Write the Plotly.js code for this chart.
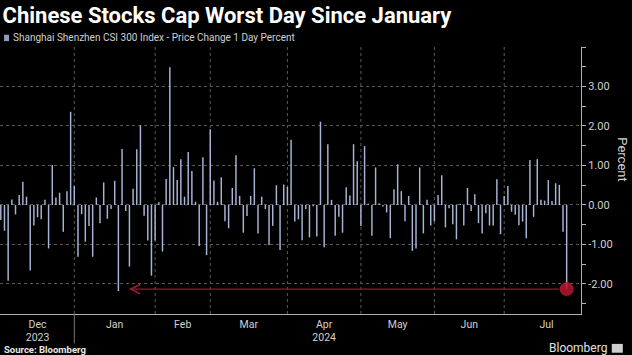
<!DOCTYPE html>
<html>
<head>
<meta charset="utf-8">
<script src="https://cdn.plot.ly/plotly-3.0.1.min.js"></script>
<style>
html,body{margin:0;padding:0;background:#000;}
#chart{width:632px;height:355px;}
</style>
</head>
<body>
<div id="chart"></div>
<script>
// ---- Data: CSI 300 daily % change, grouped by month (trading days) ----
const monthLabels = ['Dec<br>2023', 'Jan', 'Feb', 'Mar', 'Apr<br>2024', 'May', 'Jun', 'Jul'];
const dec2023 = [-0.38, -0.65, -1.92, 0.14, -0.24, 0.25, 0.59, 0.21, -1.66, -0.52, -0.31, -0.36, 0.13, -1.10, 1.01, 0.19, 0.31, -0.68, 0.35, 2.36, 0.48];
const jan2024 = [-1.31, -0.23, -0.93, -0.53, -1.31, 0.19, -0.46, 0.57, -0.35, -0.10, 0.61, -2.18, 1.42, -0.15, -1.56, 0.41, 1.41, 2.02, -0.27, -0.90, -1.79, -0.90];
const feb2024 = [0.07, -1.18, 0.66, 3.49, 0.96, 0.63, 1.16, 0.21, 1.34, 0.86, 0.08, -1.04, 1.21, -1.27, 1.92];
const mar2024 = [0.62, 0.08, 0.70, -0.41, -0.59, 0.43, 1.26, 0.23, -0.70, -0.28, 0.23, 0.93, -0.72, 0.21, -0.10, -1.01, -0.53, 0.50, -1.14, 0.52, 0.46];
const apr2024 = [1.65, -0.42, -0.36, -0.89, -0.10, -0.82, -0.03, -0.80, 2.11, -1.07, 1.54, 0.13, -0.78, -0.30, -0.70, 0.45, 0.24, 1.54, 1.11, -0.53];
const may2024 = [1.49, 0.03, -0.78, 0.95, 0.04, -0.04, -0.19, -0.84, 0.40, 1.03, 0.35, -0.41, 0.23, -1.16, -1.10, 0.95, -0.72, 0.13, -0.52, -0.41];
const jun2024 = [0.25, 0.75, -0.57, -0.08, -0.49, -0.87, 0.03, -0.52, 0.43, -0.15, 0.27, -0.46, -0.72, -0.21, -0.52, -0.52, 0.65, -0.74, 0.23];
const jul2024 = [0.48, -0.17, -0.25, -0.51, -0.42, -0.84, 1.14, -0.30, 1.16, 0.13, 0.11, 0.63, 0.10, 0.55, 0.51, -0.68, -2.13];
const julFullMonthDays = 23;
const yTickValues = [-2, -1, 0, 1, 2, 3, 4];

const seriesName = 'Shanghai Shenzhen CSI 300 Index - Price Change 1 Day Percent';
const chartTitle = 'Chinese Stocks Cap Worst Day Since January';
const axisTitle = 'Percent';

// ---- Build ----
const months = [dec2023, jan2024, feb2024, mar2024, apr2024, may2024, jun2024, jul2024];
const values = [].concat(...months);
const idx = values.map((_, i) => i);

const monthEnds = [];
let c = 0;
months.forEach(m => { c += m.length; monthEnds.push(c - 1); });
const labelPos = months.map((m, i) => {
  const prev = i === 0 ? 0 : monthEnds[i - 1];
  const end = i === months.length - 1 ? prev + julFullMonthDays : monthEnds[i];
  return (prev + end) / 2;
});

const lastIdx = values.length - 1;
const lastVal = values[lastIdx];
const janStart = dec2023.length;
let janLowIdx = janStart;
jan2024.forEach((v, i) => { if (v < values[janLowIdx]) janLowIdx = janStart + i; });

const minorVals = [];
for (let v = -2.5; v <= 4.001; v += 0.5) { if (Math.abs(v - Math.round(v)) > 0.1) minorVals.push(v); }

const gridColor = '#5a5a5a';
const axisColor = '#b0b0b0';
const textColor = '#d0d0d0';
const FONT = 'Roboto, "Open Sans", sans-serif';

const shapes = monthEnds.slice(0, -1).map(e => ({
  type: 'line', xref: 'x', yref: 'paper', x0: e, x1: e, y0: 0, y1: 1,
  line: { color: gridColor, width: 1, dash: 'dot' }, layer: 'below'
}));
// year divider below axis
shapes.push({ type: 'line', xref: 'x', yref: 'paper', x0: monthEnds[0], x1: monthEnds[0], y0: 0, y1: -0.11,
  line: { color: '#777', width: 1 } });
// legend square
shapes.push({ type: 'rect', xref: 'paper', yref: 'paper', x0: 0.007, x1: 0.0155, y0: 1.022, y1: 1.046,
  fillcolor: '#8e9bbd', line: { width: 0 } });
// bloomberg icon
shapes.push({ type: 'rect', xref: 'paper', yref: 'paper', x0: 1.053, x1: 1.072, y0: -0.145, y1: -0.112,
  fillcolor: '#cfcfcf', line: { width: 0 } });

const traces = [
  { type: 'bar', x: idx, y: values, width: 0.4, marker: { color: '#a6b4d5' }, hoverinfo: 'skip' },
  { type: 'scatter', mode: 'markers', x: [lastIdx], y: [lastVal],
    marker: { size: 14, color: 'rgba(185,22,48,0.85)', line: { width: 0 } }, hoverinfo: 'skip' }
];

const layout = {
  width: 632, height: 355,
  paper_bgcolor: '#000', plot_bgcolor: '#000',
  margin: { l: 0, r: 51, t: 47, b: 41 },
  showlegend: false,
  font: { family: FONT, color: textColor },
  title: { text: '<b>' + chartTitle + '</b>', x: 0.004, xanchor: 'left', xref: 'container',
    y: 1 - 15 / 355, yanchor: 'middle', yref: 'container',
    font: { family: FONT, size: 22, color: '#ffffff' } },
  xaxis: {
    range: [-0.22, 157.9], tickmode: 'array', tickvals: labelPos, ticktext: monthLabels,
    ticks: '', showgrid: false, zeroline: false, showline: true, linecolor: axisColor, linewidth: 1,
    tickfont: { size: 10.5, color: textColor }, fixedrange: true
  },
  yaxis: {
    side: 'right', range: [-2.76, 4.0], tickmode: 'array', tickvals: yTickValues,
    ticktext: yTickValues.map(v => v === 4 ? '' : v.toFixed(2)),
    ticks: 'outside', ticklen: 4, tickcolor: axisColor, showline: true, linecolor: axisColor,
    showgrid: true, gridcolor: gridColor, griddash: 'dot', zeroline: false,
    tickfont: { size: 11, color: textColor },
    minor: { tickvals: minorVals, ticks: 'outside', ticklen: 4, tickcolor: axisColor, showgrid: false },
    fixedrange: true
  },
  shapes: shapes,
  annotations: [
    { x: janLowIdx + 2.8, y: lastVal, xref: 'x', yref: 'y', ax: lastIdx, ay: lastVal, axref: 'x', ayref: 'y',
      showarrow: true, arrowhead: 5, arrowsize: 1.4, arrowwidth: 1.3, arrowcolor: '#96192c', text: '',
      startstandoff: 6 },
    { text: seriesName, xref: 'paper', yref: 'paper', x: 0.019, y: 1.034, xanchor: 'left', yanchor: 'middle',
      showarrow: false, font: { size: 10, color: textColor } },
    { text: axisTitle, xref: 'paper', yref: 'paper', x: 1.072, y: 0.58, xanchor: 'center', yanchor: 'middle',
      textangle: 90, showarrow: false, font: { size: 13, color: textColor } },
    { text: '<b>Source: Bloomberg</b>', xref: 'paper', yref: 'paper', x: 0.004, y: -0.134, xanchor: 'left', yanchor: 'middle',
      showarrow: false, font: { size: 9.5, color: '#e8e8e8' } },
    { text: 'Bloomberg', xref: 'paper', yref: 'paper', x: 1.048, y: -0.128, xanchor: 'right', yanchor: 'middle',
      showarrow: false, font: { size: 12, color: '#e0e0e0' } }
  ]
};

Plotly.newPlot('chart', traces, layout, { staticPlot: true, displayModeBar: false });
</script>
</body>
</html>
